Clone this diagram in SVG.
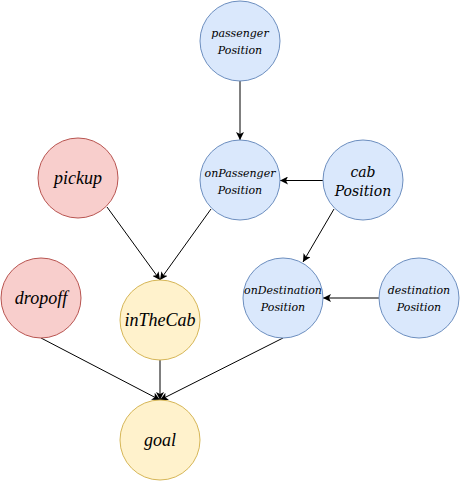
<svg xmlns="http://www.w3.org/2000/svg" width="460" height="481" viewBox="0 0 460 481">
<style>
.blue{fill:#dae8fc;stroke:#6c8ebf;stroke-width:1}
.red{fill:#f8cecc;stroke:#b85450;stroke-width:1}
.yel{fill:#fff2cc;stroke:#d6b656;stroke-width:1}
.edge{fill:none;stroke:#000;stroke-width:1;marker-end:url(#arr)}
.s{font-family:"DejaVu Serif",serif;font-style:italic;font-size:11px;fill:#000;text-anchor:middle}
.m{font-family:"DejaVu Serif",serif;font-style:italic;font-size:14px;fill:#000;text-anchor:middle}
.l{font-family:"Liberation Serif","Times New Roman",serif;font-style:italic;font-size:18px;fill:#000;text-anchor:middle}
</style>
<defs>
<marker id="arr" markerUnits="userSpaceOnUse" markerWidth="8" markerHeight="8" viewBox="0 0 8 8" refX="8" refY="4" orient="auto">
<path d="M0,0 L8,4 L0,8 L2,4 Z" fill="#000"/>
</marker>
</defs>
<g id="connectors">
<line class="edge" x1="240" y1="81" x2="240" y2="140"/>
<line class="edge" x1="323" y1="180.5" x2="280" y2="180.5"/>
<line class="edge" x1="379" y1="298" x2="323" y2="298"/>
<line class="edge" x1="334" y1="209" x2="303" y2="262"/>
<line class="edge" x1="211" y1="209" x2="160" y2="280"/>
<line class="edge" x1="107" y1="207" x2="160" y2="280"/>
<line class="edge" x1="41" y1="338" x2="160" y2="400"/>
<line class="edge" x1="160" y1="360" x2="160" y2="400"/>
<line class="edge" x1="283" y1="338" x2="160" y2="400"/>
</g>
<g id="passengerPosition">
<circle class="blue" cx="240" cy="41" r="40"/>
<text class="s" x="240" y="37">passenger</text>
<text class="s" x="240" y="54">Position</text>
</g>
<g id="onPassengerPosition">
<circle class="blue" cx="240" cy="180" r="40"/>
<text class="s" x="240" y="177">onPassenger</text>
<text class="s" x="240" y="194">Position</text>
</g>
<g id="cabPosition">
<circle class="blue" cx="363" cy="180" r="40"/>
<text class="m" x="363" y="177">cab</text>
<text class="m" x="363" y="196">Position</text>
</g>
<g id="pickup">
<circle class="red" cx="78" cy="178" r="40"/>
<text class="l" x="78" y="184">pickup</text>
</g>
<g id="dropoff">
<circle class="red" cx="41" cy="298" r="40"/>
<text class="l" x="41" y="304">dropoff</text>
</g>
<g id="inTheCab">
<circle class="yel" cx="160" cy="320" r="40"/>
<text class="l" x="160" y="326">inTheCab</text>
</g>
<g id="goal">
<circle class="yel" cx="160" cy="440" r="40"/>
<text class="l" x="160" y="446">goal</text>
</g>
<g id="onDestinationPosition">
<circle class="blue" cx="283" cy="298" r="40"/>
<text class="s" x="283" y="294">onDestination</text>
<text class="s" x="283" y="311">Position</text>
</g>
<g id="destinationPosition">
<circle class="blue" cx="419" cy="298" r="40"/>
<text class="s" x="419" y="294">destination</text>
<text class="s" x="419" y="311">Position</text>
</g>
</svg>
